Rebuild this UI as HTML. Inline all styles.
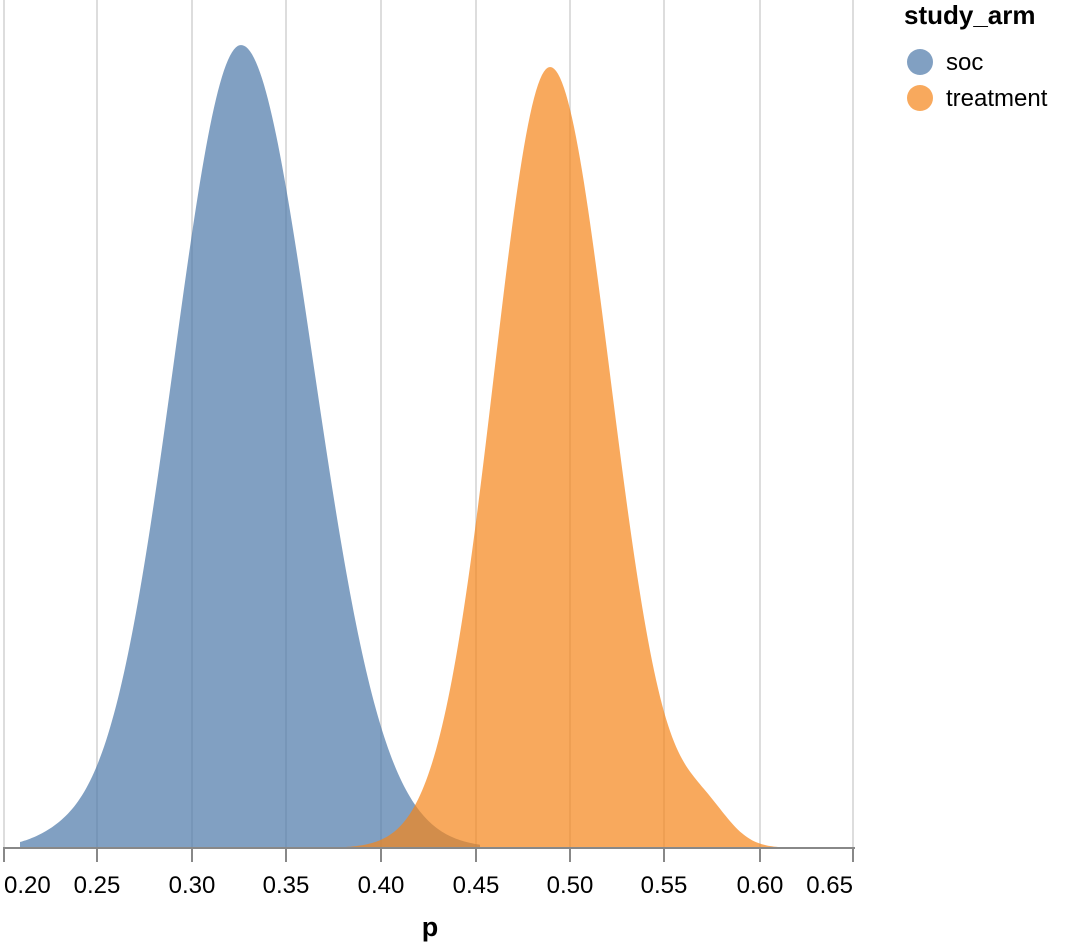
<!DOCTYPE html>
<html><head><meta charset="utf-8"><style>
html,body{margin:0;padding:0;background:#fff;}
svg{display:block;font-family:"Liberation Sans",Arial,sans-serif;}
</style></head><body>
<svg id="s" width="1081" height="946" viewBox="0 0 1081 946">
<g stroke="#ddd" stroke-width="2">
<line x1="4" y1="0" x2="4" y2="848"/>
<line x1="97" y1="0" x2="97" y2="848"/>
<line x1="192" y1="0" x2="192" y2="848"/>
<line x1="286" y1="0" x2="286" y2="848"/>
<line x1="381" y1="0" x2="381" y2="848"/>
<line x1="476" y1="0" x2="476" y2="848"/>
<line x1="570" y1="0" x2="570" y2="848"/>
<line x1="664" y1="0" x2="664" y2="848"/>
<line x1="760" y1="0" x2="760" y2="848"/>
<line x1="853" y1="0" x2="853" y2="848"/>
</g>
<path id="soc" fill="#4c78a8" fill-opacity="0.7"/>
<path id="trt" fill="#f58518" fill-opacity="0.7"/>
<g stroke="#888" stroke-width="2">
<line x1="3" y1="848" x2="855" y2="848"/>
<line x1="4" y1="848" x2="4" y2="862"/>
<line x1="97" y1="848" x2="97" y2="862"/>
<line x1="192" y1="848" x2="192" y2="862"/>
<line x1="286" y1="848" x2="286" y2="862"/>
<line x1="381" y1="848" x2="381" y2="862"/>
<line x1="476" y1="848" x2="476" y2="862"/>
<line x1="570" y1="848" x2="570" y2="862"/>
<line x1="664" y1="848" x2="664" y2="862"/>
<line x1="760" y1="848" x2="760" y2="862"/>
<line x1="853" y1="848" x2="853" y2="862"/>
</g>
<g font-size="24" fill="#000" text-anchor="middle">
<text x="4" y="893" text-anchor="start">0.20</text>
<text x="97" y="893">0.25</text>
<text x="192" y="893">0.30</text>
<text x="286" y="893">0.35</text>
<text x="381" y="893">0.40</text>
<text x="476" y="893">0.45</text>
<text x="570" y="893">0.50</text>
<text x="664" y="893">0.55</text>
<text x="760" y="893">0.60</text>
<text x="853" y="893" text-anchor="end">0.65</text>
</g>
<text x="430" y="936" font-size="27" font-weight="bold" text-anchor="middle">p</text>
<text x="904" y="24" font-size="26" font-weight="bold">study_arm</text>
<circle cx="920" cy="62" r="13" fill="#4c78a8" fill-opacity="0.7"/>
<text x="946" y="70" font-size="24">soc</text>
<circle cx="920" cy="98" r="13" fill="#f58518" fill-opacity="0.7"/>
<text x="946" y="106" font-size="24">treatment</text>
</svg>
<script>
function mk(peak,h,sl,sr,x0,x1,extra){
  var d="M"+x0+",848";
  for(var x=x0;x<=x1;x+=2){
    var s=x<peak?sl:sr;
    var v=h*Math.exp(-0.5*Math.pow((x-peak)/s,2));
    if(extra)v+=extra(x);
    d+=" L"+x+","+(848-v).toFixed(1);
  }
  return d+" L"+x1+",848 Z";
}
document.getElementById("soc").setAttribute("d",mk(241,803,67,72,20,480,function(x){return 6*Math.exp(-0.5*Math.pow((x-60)/30,2));}));
document.getElementById("trt").setAttribute("d",mk(550,781,56,60,320,780,function(x){return 30*Math.exp(-0.5*Math.pow((x-705)/25,2));}));
</script>
</body></html>
